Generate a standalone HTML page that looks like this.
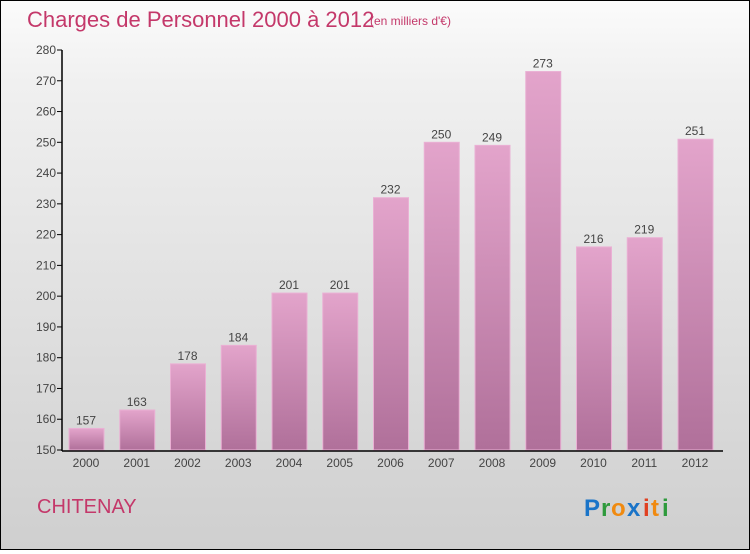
<!DOCTYPE html>
<html><head><meta charset="utf-8"><style>
body{margin:0;width:750px;height:550px;overflow:hidden}
#c{position:relative;width:748px;height:548px;border:1px solid #000;background:linear-gradient(#fbfbfb,#f0f0f0 15%,#cfcfcf);font-family:"Liberation Sans",sans-serif}
</style></head><body>
<div id="c">
<svg id="s" width="748" height="548">
<defs><linearGradient id="g" x1="0" y1="0" x2="0" y2="1"><stop offset="0" stop-color="#e3a4cb"/><stop offset="1" stop-color="#b0709a"/></linearGradient></defs>
<text x="26" y="26" font-size="22" fill="#c4386a">Charges de Personnel 2000 à 2012</text>
<text x="369" y="24" font-size="12" fill="#c4386a">(en milliers d'€)</text>
<text x="36" y="512" font-size="20" fill="#c4386a">CHITENAY</text>
<g font-size="24" font-weight="bold"><text x="583" y="515" fill="#1a74c8">P</text><text x="600" y="515" fill="#2e9a3c">r</text><text x="610" y="515" fill="#f08a10">o</text><text x="626" y="515" fill="#1a74c8">x</text><text x="642" y="515" fill="#e04020">i</text><text x="650" y="515" fill="#f08a10">t</text><text x="661" y="515" fill="#2e9a3c">i</text></g>
<g id="plot"></g>
</svg></div>
<script>
const years=["2000","2001","2002","2003","2004","2005","2006","2007","2008","2009","2010","2011","2012"];
const values=[157,163,178,184,201,201,232,250,249,273,216,219,251];
const ticks=[150,160,170,180,190,200,210,220,230,240,250,260,270,280];
const NS="http://www.w3.org/2000/svg",p=document.getElementById('plot');
const y=v=>449-(v-150)*400/130, x=i=>85+i*50.75;
function el(t,a,txt){const e=document.createElementNS(NS,t);for(const k in a)e.setAttribute(k,a[k]);if(txt!=null)e.textContent=txt;p.appendChild(e);return e;}
ticks.forEach(t=>{
const l=el('line',{x1:56,x2:61,y1:y(t),y2:y(t),stroke:'#000'});


const tx=el('text',{x:55,y:y(t)+4,'font-size':12,fill:'#444','text-anchor':'end'},t);


});
values.forEach((v,i)=>{
const r=el('rect',{x:x(i)-17,y:y(v),width:35,height:449-y(v),fill:'url(#g)',stroke:'#eab0d4','stroke-width':1});


const vl=el('text',{x:x(i),y:y(v)-4,'font-size':12,fill:'#444','text-anchor':'middle'},v);


const xl=el('text',{x:x(i),y:466,'font-size':12,fill:'#444','text-anchor':'middle'},years[i]);


});
const ya=el('line',{x1:61,x2:61,y1:y(280),y2:450,stroke:'#000','stroke-width':1.5});


const xa=el('line',{x1:61,x2:722,y1:450,y2:450,stroke:'#000','stroke-width':1.5});


</script>
</body></html>
